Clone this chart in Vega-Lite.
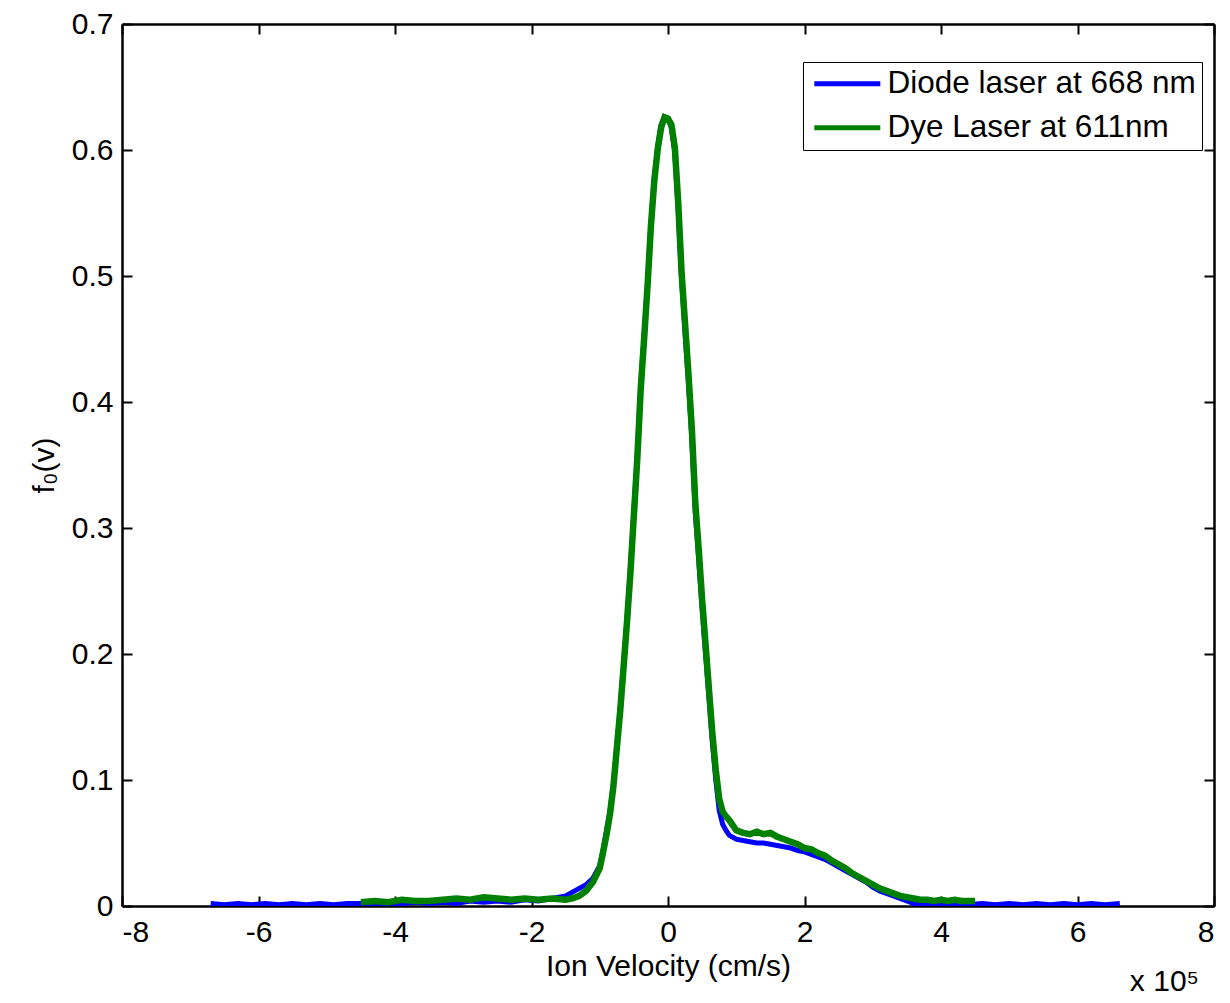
{
  "$schema": "https://vega.github.io/schema/vega-lite/v6.json",
  "width": 1092,
  "height": 882,
  "autosize": {"type": "none"},
  "padding": {"left": 122, "top": 24, "right": 16, "bottom": 97},
  "background": "white",
  "config": {
    "font": "Liberation Sans",
    "view": {"stroke": null},
    "axis": {
      "domainColor": "black", "domainWidth": 2.5, "tickColor": "black", "tickWidth": 2,
      "tickSize": -10, "grid": false, "labelFontSize": 30, "labelColor": "black",
      "titleFontSize": 30, "titleFontWeight": "normal", "titleColor": "black", "labelFont": "Liberation Sans", "titleFont": "Liberation Sans",
      "labelExpr": "replace(datum.label, '−', '-')"
    },
    "legend": {
      "labelFontSize": 31.5, "labelColor": "black", "labelFont": "Liberation Sans"
    }
  },
  "title": {"text": "x 10⁵", "orient": "bottom", "anchor": "end", "fontSize": 30, "fontWeight": "normal", "font": "Liberation Sans", "color": "black", "offset": -14, "dx": -16},
  "data": {"values": [
    {"v": -6.7, "f": 0.002, "s": "Diode laser at 668 nm"},
    {"v": -6.5, "f": 0.001, "s": "Diode laser at 668 nm"},
    {"v": -6.3, "f": 0.002, "s": "Diode laser at 668 nm"},
    {"v": -6.1, "f": 0.001, "s": "Diode laser at 668 nm"},
    {"v": -5.9, "f": 0.002, "s": "Diode laser at 668 nm"},
    {"v": -5.7, "f": 0.001, "s": "Diode laser at 668 nm"},
    {"v": -5.5, "f": 0.002, "s": "Diode laser at 668 nm"},
    {"v": -5.3, "f": 0.001, "s": "Diode laser at 668 nm"},
    {"v": -5.1, "f": 0.002, "s": "Diode laser at 668 nm"},
    {"v": -4.9, "f": 0.001, "s": "Diode laser at 668 nm"},
    {"v": -4.7, "f": 0.002, "s": "Diode laser at 668 nm"},
    {"v": -4.5, "f": 0.002, "s": "Diode laser at 668 nm"},
    {"v": -4.3, "f": 0.001, "s": "Diode laser at 668 nm"},
    {"v": -4.1, "f": 0.002, "s": "Diode laser at 668 nm"},
    {"v": -3.9, "f": 0.002, "s": "Diode laser at 668 nm"},
    {"v": -3.7, "f": 0.003, "s": "Diode laser at 668 nm"},
    {"v": -3.5, "f": 0.002, "s": "Diode laser at 668 nm"},
    {"v": -3.3, "f": 0.003, "s": "Diode laser at 668 nm"},
    {"v": -3.1, "f": 0.002, "s": "Diode laser at 668 nm"},
    {"v": -2.9, "f": 0.004, "s": "Diode laser at 668 nm"},
    {"v": -2.7, "f": 0.003, "s": "Diode laser at 668 nm"},
    {"v": -2.5, "f": 0.004, "s": "Diode laser at 668 nm"},
    {"v": -2.3, "f": 0.003, "s": "Diode laser at 668 nm"},
    {"v": -2.1, "f": 0.005, "s": "Diode laser at 668 nm"},
    {"v": -1.9, "f": 0.004, "s": "Diode laser at 668 nm"},
    {"v": -1.7, "f": 0.006, "s": "Diode laser at 668 nm"},
    {"v": -1.5, "f": 0.008, "s": "Diode laser at 668 nm"},
    {"v": -1.4, "f": 0.011, "s": "Diode laser at 668 nm"},
    {"v": -1.3, "f": 0.014, "s": "Diode laser at 668 nm"},
    {"v": -1.2, "f": 0.017, "s": "Diode laser at 668 nm"},
    {"v": -1.1, "f": 0.022, "s": "Diode laser at 668 nm"},
    {"v": -1.0, "f": 0.032, "s": "Diode laser at 668 nm"},
    {"v": -0.95, "f": 0.045, "s": "Diode laser at 668 nm"},
    {"v": -0.9, "f": 0.06, "s": "Diode laser at 668 nm"},
    {"v": -0.85, "f": 0.075, "s": "Diode laser at 668 nm"},
    {"v": -0.8, "f": 0.097, "s": "Diode laser at 668 nm"},
    {"v": -0.75, "f": 0.127, "s": "Diode laser at 668 nm"},
    {"v": -0.7, "f": 0.157, "s": "Diode laser at 668 nm"},
    {"v": -0.65, "f": 0.192, "s": "Diode laser at 668 nm"},
    {"v": -0.6, "f": 0.228, "s": "Diode laser at 668 nm"},
    {"v": -0.55, "f": 0.268, "s": "Diode laser at 668 nm"},
    {"v": -0.5, "f": 0.313, "s": "Diode laser at 668 nm"},
    {"v": -0.45, "f": 0.358, "s": "Diode laser at 668 nm"},
    {"v": -0.4, "f": 0.412, "s": "Diode laser at 668 nm"},
    {"v": -0.35, "f": 0.452, "s": "Diode laser at 668 nm"},
    {"v": -0.3, "f": 0.494, "s": "Diode laser at 668 nm"},
    {"v": -0.25, "f": 0.542, "s": "Diode laser at 668 nm"},
    {"v": -0.2, "f": 0.578, "s": "Diode laser at 668 nm"},
    {"v": -0.15, "f": 0.603, "s": "Diode laser at 668 nm"},
    {"v": -0.1, "f": 0.62, "s": "Diode laser at 668 nm"},
    {"v": -0.05, "f": 0.626, "s": "Diode laser at 668 nm"},
    {"v": 0.0, "f": 0.624, "s": "Diode laser at 668 nm"},
    {"v": 0.05, "f": 0.618, "s": "Diode laser at 668 nm"},
    {"v": 0.1, "f": 0.598, "s": "Diode laser at 668 nm"},
    {"v": 0.15, "f": 0.552, "s": "Diode laser at 668 nm"},
    {"v": 0.2, "f": 0.497, "s": "Diode laser at 668 nm"},
    {"v": 0.25, "f": 0.455, "s": "Diode laser at 668 nm"},
    {"v": 0.3, "f": 0.415, "s": "Diode laser at 668 nm"},
    {"v": 0.35, "f": 0.37, "s": "Diode laser at 668 nm"},
    {"v": 0.4, "f": 0.312, "s": "Diode laser at 668 nm"},
    {"v": 0.45, "f": 0.275, "s": "Diode laser at 668 nm"},
    {"v": 0.5, "f": 0.236, "s": "Diode laser at 668 nm"},
    {"v": 0.55, "f": 0.2, "s": "Diode laser at 668 nm"},
    {"v": 0.6, "f": 0.166, "s": "Diode laser at 668 nm"},
    {"v": 0.65, "f": 0.13, "s": "Diode laser at 668 nm"},
    {"v": 0.7, "f": 0.1, "s": "Diode laser at 668 nm"},
    {"v": 0.75, "f": 0.076, "s": "Diode laser at 668 nm"},
    {"v": 0.8, "f": 0.065, "s": "Diode laser at 668 nm"},
    {"v": 0.85, "f": 0.06, "s": "Diode laser at 668 nm"},
    {"v": 0.9, "f": 0.056, "s": "Diode laser at 668 nm"},
    {"v": 1.0, "f": 0.053, "s": "Diode laser at 668 nm"},
    {"v": 1.1, "f": 0.052, "s": "Diode laser at 668 nm"},
    {"v": 1.2, "f": 0.051, "s": "Diode laser at 668 nm"},
    {"v": 1.3, "f": 0.05, "s": "Diode laser at 668 nm"},
    {"v": 1.4, "f": 0.05, "s": "Diode laser at 668 nm"},
    {"v": 1.5, "f": 0.049, "s": "Diode laser at 668 nm"},
    {"v": 1.6, "f": 0.048, "s": "Diode laser at 668 nm"},
    {"v": 1.7, "f": 0.047, "s": "Diode laser at 668 nm"},
    {"v": 1.8, "f": 0.046, "s": "Diode laser at 668 nm"},
    {"v": 1.9, "f": 0.044, "s": "Diode laser at 668 nm"},
    {"v": 2.0, "f": 0.043, "s": "Diode laser at 668 nm"},
    {"v": 2.1, "f": 0.041, "s": "Diode laser at 668 nm"},
    {"v": 2.2, "f": 0.039, "s": "Diode laser at 668 nm"},
    {"v": 2.3, "f": 0.037, "s": "Diode laser at 668 nm"},
    {"v": 2.4, "f": 0.034, "s": "Diode laser at 668 nm"},
    {"v": 2.5, "f": 0.031, "s": "Diode laser at 668 nm"},
    {"v": 2.6, "f": 0.028, "s": "Diode laser at 668 nm"},
    {"v": 2.7, "f": 0.025, "s": "Diode laser at 668 nm"},
    {"v": 2.8, "f": 0.022, "s": "Diode laser at 668 nm"},
    {"v": 2.9, "f": 0.019, "s": "Diode laser at 668 nm"},
    {"v": 3.0, "f": 0.015, "s": "Diode laser at 668 nm"},
    {"v": 3.1, "f": 0.012, "s": "Diode laser at 668 nm"},
    {"v": 3.2, "f": 0.01, "s": "Diode laser at 668 nm"},
    {"v": 3.3, "f": 0.008, "s": "Diode laser at 668 nm"},
    {"v": 3.4, "f": 0.006, "s": "Diode laser at 668 nm"},
    {"v": 3.5, "f": 0.004, "s": "Diode laser at 668 nm"},
    {"v": 3.6, "f": 0.002, "s": "Diode laser at 668 nm"},
    {"v": 3.8, "f": 0.002, "s": "Diode laser at 668 nm"},
    {"v": 4.0, "f": 0.001, "s": "Diode laser at 668 nm"},
    {"v": 4.2, "f": 0.002, "s": "Diode laser at 668 nm"},
    {"v": 4.4, "f": 0.001, "s": "Diode laser at 668 nm"},
    {"v": 4.6, "f": 0.002, "s": "Diode laser at 668 nm"},
    {"v": 4.8, "f": 0.001, "s": "Diode laser at 668 nm"},
    {"v": 5.0, "f": 0.002, "s": "Diode laser at 668 nm"},
    {"v": 5.2, "f": 0.001, "s": "Diode laser at 668 nm"},
    {"v": 5.4, "f": 0.002, "s": "Diode laser at 668 nm"},
    {"v": 5.6, "f": 0.001, "s": "Diode laser at 668 nm"},
    {"v": 5.8, "f": 0.002, "s": "Diode laser at 668 nm"},
    {"v": 6.0, "f": 0.001, "s": "Diode laser at 668 nm"},
    {"v": 6.2, "f": 0.002, "s": "Diode laser at 668 nm"},
    {"v": 6.4, "f": 0.001, "s": "Diode laser at 668 nm"},
    {"v": 6.62, "f": 0.002, "s": "Diode laser at 668 nm"},
    {"v": -4.5, "f": 0.003, "s": "Dye Laser at 611nm"},
    {"v": -4.3, "f": 0.004, "s": "Dye Laser at 611nm"},
    {"v": -4.1, "f": 0.003, "s": "Dye Laser at 611nm"},
    {"v": -3.9, "f": 0.005, "s": "Dye Laser at 611nm"},
    {"v": -3.7, "f": 0.004, "s": "Dye Laser at 611nm"},
    {"v": -3.5, "f": 0.004, "s": "Dye Laser at 611nm"},
    {"v": -3.3, "f": 0.005, "s": "Dye Laser at 611nm"},
    {"v": -3.1, "f": 0.006, "s": "Dye Laser at 611nm"},
    {"v": -2.9, "f": 0.005, "s": "Dye Laser at 611nm"},
    {"v": -2.7, "f": 0.007, "s": "Dye Laser at 611nm"},
    {"v": -2.5, "f": 0.006, "s": "Dye Laser at 611nm"},
    {"v": -2.3, "f": 0.005, "s": "Dye Laser at 611nm"},
    {"v": -2.1, "f": 0.006, "s": "Dye Laser at 611nm"},
    {"v": -1.9, "f": 0.005, "s": "Dye Laser at 611nm"},
    {"v": -1.7, "f": 0.006, "s": "Dye Laser at 611nm"},
    {"v": -1.5, "f": 0.005, "s": "Dye Laser at 611nm"},
    {"v": -1.4, "f": 0.006, "s": "Dye Laser at 611nm"},
    {"v": -1.3, "f": 0.008, "s": "Dye Laser at 611nm"},
    {"v": -1.2, "f": 0.012, "s": "Dye Laser at 611nm"},
    {"v": -1.1, "f": 0.019, "s": "Dye Laser at 611nm"},
    {"v": -1.0, "f": 0.03, "s": "Dye Laser at 611nm"},
    {"v": -0.95, "f": 0.043, "s": "Dye Laser at 611nm"},
    {"v": -0.9, "f": 0.057, "s": "Dye Laser at 611nm"},
    {"v": -0.85, "f": 0.073, "s": "Dye Laser at 611nm"},
    {"v": -0.8, "f": 0.095, "s": "Dye Laser at 611nm"},
    {"v": -0.75, "f": 0.125, "s": "Dye Laser at 611nm"},
    {"v": -0.7, "f": 0.155, "s": "Dye Laser at 611nm"},
    {"v": -0.65, "f": 0.19, "s": "Dye Laser at 611nm"},
    {"v": -0.6, "f": 0.226, "s": "Dye Laser at 611nm"},
    {"v": -0.55, "f": 0.265, "s": "Dye Laser at 611nm"},
    {"v": -0.5, "f": 0.31, "s": "Dye Laser at 611nm"},
    {"v": -0.45, "f": 0.355, "s": "Dye Laser at 611nm"},
    {"v": -0.4, "f": 0.41, "s": "Dye Laser at 611nm"},
    {"v": -0.35, "f": 0.45, "s": "Dye Laser at 611nm"},
    {"v": -0.3, "f": 0.492, "s": "Dye Laser at 611nm"},
    {"v": -0.25, "f": 0.54, "s": "Dye Laser at 611nm"},
    {"v": -0.2, "f": 0.576, "s": "Dye Laser at 611nm"},
    {"v": -0.15, "f": 0.601, "s": "Dye Laser at 611nm"},
    {"v": -0.1, "f": 0.618, "s": "Dye Laser at 611nm"},
    {"v": -0.05, "f": 0.626, "s": "Dye Laser at 611nm"},
    {"v": 0.0, "f": 0.625, "s": "Dye Laser at 611nm"},
    {"v": 0.05, "f": 0.62, "s": "Dye Laser at 611nm"},
    {"v": 0.1, "f": 0.602, "s": "Dye Laser at 611nm"},
    {"v": 0.15, "f": 0.558, "s": "Dye Laser at 611nm"},
    {"v": 0.2, "f": 0.502, "s": "Dye Laser at 611nm"},
    {"v": 0.25, "f": 0.462, "s": "Dye Laser at 611nm"},
    {"v": 0.3, "f": 0.422, "s": "Dye Laser at 611nm"},
    {"v": 0.35, "f": 0.378, "s": "Dye Laser at 611nm"},
    {"v": 0.4, "f": 0.32, "s": "Dye Laser at 611nm"},
    {"v": 0.45, "f": 0.283, "s": "Dye Laser at 611nm"},
    {"v": 0.5, "f": 0.243, "s": "Dye Laser at 611nm"},
    {"v": 0.55, "f": 0.208, "s": "Dye Laser at 611nm"},
    {"v": 0.6, "f": 0.172, "s": "Dye Laser at 611nm"},
    {"v": 0.65, "f": 0.137, "s": "Dye Laser at 611nm"},
    {"v": 0.7, "f": 0.108, "s": "Dye Laser at 611nm"},
    {"v": 0.75, "f": 0.085, "s": "Dye Laser at 611nm"},
    {"v": 0.8, "f": 0.075, "s": "Dye Laser at 611nm"},
    {"v": 0.85, "f": 0.071, "s": "Dye Laser at 611nm"},
    {"v": 0.9, "f": 0.068, "s": "Dye Laser at 611nm"},
    {"v": 0.95, "f": 0.064, "s": "Dye Laser at 611nm"},
    {"v": 1.0, "f": 0.06, "s": "Dye Laser at 611nm"},
    {"v": 1.1, "f": 0.058, "s": "Dye Laser at 611nm"},
    {"v": 1.2, "f": 0.057, "s": "Dye Laser at 611nm"},
    {"v": 1.3, "f": 0.059, "s": "Dye Laser at 611nm"},
    {"v": 1.4, "f": 0.057, "s": "Dye Laser at 611nm"},
    {"v": 1.5, "f": 0.058, "s": "Dye Laser at 611nm"},
    {"v": 1.6, "f": 0.055, "s": "Dye Laser at 611nm"},
    {"v": 1.7, "f": 0.053, "s": "Dye Laser at 611nm"},
    {"v": 1.8, "f": 0.051, "s": "Dye Laser at 611nm"},
    {"v": 1.9, "f": 0.049, "s": "Dye Laser at 611nm"},
    {"v": 2.0, "f": 0.046, "s": "Dye Laser at 611nm"},
    {"v": 2.1, "f": 0.045, "s": "Dye Laser at 611nm"},
    {"v": 2.2, "f": 0.042, "s": "Dye Laser at 611nm"},
    {"v": 2.3, "f": 0.04, "s": "Dye Laser at 611nm"},
    {"v": 2.4, "f": 0.036, "s": "Dye Laser at 611nm"},
    {"v": 2.5, "f": 0.033, "s": "Dye Laser at 611nm"},
    {"v": 2.6, "f": 0.03, "s": "Dye Laser at 611nm"},
    {"v": 2.7, "f": 0.026, "s": "Dye Laser at 611nm"},
    {"v": 2.8, "f": 0.023, "s": "Dye Laser at 611nm"},
    {"v": 2.9, "f": 0.02, "s": "Dye Laser at 611nm"},
    {"v": 3.0, "f": 0.017, "s": "Dye Laser at 611nm"},
    {"v": 3.1, "f": 0.014, "s": "Dye Laser at 611nm"},
    {"v": 3.2, "f": 0.012, "s": "Dye Laser at 611nm"},
    {"v": 3.3, "f": 0.01, "s": "Dye Laser at 611nm"},
    {"v": 3.4, "f": 0.008, "s": "Dye Laser at 611nm"},
    {"v": 3.5, "f": 0.007, "s": "Dye Laser at 611nm"},
    {"v": 3.6, "f": 0.006, "s": "Dye Laser at 611nm"},
    {"v": 3.7, "f": 0.005, "s": "Dye Laser at 611nm"},
    {"v": 3.8, "f": 0.005, "s": "Dye Laser at 611nm"},
    {"v": 3.9, "f": 0.004, "s": "Dye Laser at 611nm"},
    {"v": 4.0, "f": 0.005, "s": "Dye Laser at 611nm"},
    {"v": 4.1, "f": 0.004, "s": "Dye Laser at 611nm"},
    {"v": 4.2, "f": 0.005, "s": "Dye Laser at 611nm"},
    {"v": 4.3, "f": 0.004, "s": "Dye Laser at 611nm"},
    {"v": 4.5, "f": 0.004, "s": "Dye Laser at 611nm"}
  ]},
  "layer": [
    {
      "transform": [{"filter": "datum.s === 'Diode laser at 668 nm'"}],
      "mark": {"type": "line", "strokeWidth": 5, "clip": true},
      "encoding": {
        "x": {"field": "v", "type": "quantitative", "scale": {"domain": [-8, 8], "nice": false, "zero": false},
          "axis": {"orient": "bottom", "values": [-8, -6, -4, -2, 0, 2, 4, 6, 8], "title": "Ion Velocity (cm/s)", "labelPadding": 21, "titlePadding": 4}},
        "y": {"field": "f", "type": "quantitative", "scale": {"domain": [0, 0.7], "nice": false},
          "axis": {"orient": "left", "values": [0, 0.1, 0.2, 0.3, 0.4, 0.5, 0.6, 0.7], "format": ".1~f", "title": "f₀(v)", "labelPadding": 19, "titlePadding": 12}},
        "color": {"field": "s", "type": "nominal",
          "scale": {"domain": ["Diode laser at 668 nm", "Dye Laser at 611nm"], "range": ["#0000ff", "#008000"]},
          "legend": {"title": null, "orient": "none", "legendX": 681, "legendY": 38, "symbolType": "M-0.95,0H5.05", "symbolSize": 484, "symbolStrokeWidth": 5, "strokeColor": "black", "fillColor": "white", "padding": 6, "rowPadding": 11, "labelOffset": 47, "labelLimit": 400}}
      }
    },
    {
      "transform": [{"filter": "datum.s === 'Dye Laser at 611nm'"}],
      "mark": {"type": "line", "strokeWidth": 6.5, "clip": true},
      "encoding": {
        "x": {"field": "v", "type": "quantitative", "scale": {"domain": [-8, 8], "nice": false, "zero": false},
          "axis": {"orient": "top", "values": [-8, -6, -4, -2, 0, 2, 4, 6, 8], "labels": false, "title": null}},
        "y": {"field": "f", "type": "quantitative", "scale": {"domain": [0, 0.7], "nice": false},
          "axis": {"orient": "right", "values": [0, 0.1, 0.2, 0.3, 0.4, 0.5, 0.6, 0.7], "labels": false, "title": null}},
        "color": {"field": "s", "type": "nominal",
          "scale": {"domain": ["Diode laser at 668 nm", "Dye Laser at 611nm"], "range": ["#0000ff", "#008000"]}}
      }
    }
  ],
  "resolve": {"axis": {"x": "independent", "y": "independent"}}
}
